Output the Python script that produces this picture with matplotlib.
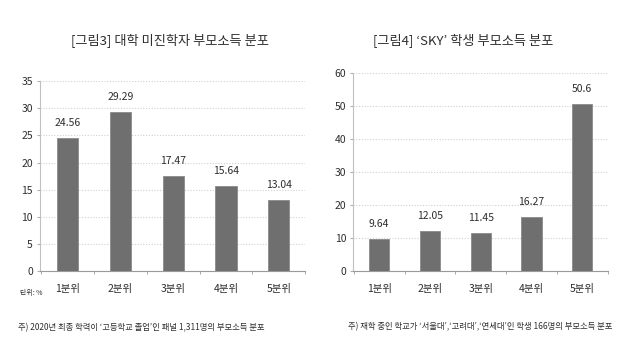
import matplotlib.pyplot as plt

plt.rcParams["font.family"] = ["Noto Sans CJK KR", "DejaVu Sans"]

# ── 데이터 ──
categories = ["1분위", "2분위", "3분위", "4분위", "5분위"]
left_values = [24.56, 29.29, 17.47, 15.64, 13.04]
right_values = [9.64, 12.05, 11.45, 16.27, 50.6]
left_labels = ["24.56", "29.29", "17.47", "15.64", "13.04"]
right_labels = ["9.64", "12.05", "11.45", "16.27", "50.6"]

left_title = "[그림3] 대학 미진학자 부모소득 분포"
right_title = "[그림4] ‘SKY’ 학생 부모소득 분포"
left_note = "주) 2020년 최종 학력이 ‘고등학교 졸업’인 패널 1,311명의 부모소득 분포"
right_note = "주) 재학 중인 학교가 ‘서울대’,‘고려대’,‘연세대’인 학생 166명의 부모소득 분포"

BAR_COLOR = "#6f6f6f"
TEXT_COLOR = "#2e2e2e"

fig = plt.figure(figsize=(6.33, 3.59), dpi=100)


def draw(ax, values, labels, ymax, step, xlim):
    x = range(len(categories))
    ax.bar(x, values, width=0.4, color=BAR_COLOR, edgecolor="#8a8a8a",
           linewidth=0.6, zorder=3)
    for xi, v, lab in zip(x, values, labels):
        ax.annotate(lab, (xi, v), xytext=(0, 11), textcoords="offset points",
                    ha="center", va="center", fontsize=7.5, color=TEXT_COLOR)
    ax.set_ylim(0, ymax)
    ax.set_xlim(*xlim)
    ax.set_yticks(range(0, ymax + 1, step))
    ax.set_xticks(list(x))
    ax.set_xticklabels(categories)
    ax.set_xticks([i + 0.5 for i in range(-1, len(categories))], minor=True)
    ax.tick_params(axis="x", which="major", length=0, pad=9,
                   labelsize=7.5, colors=TEXT_COLOR)
    ax.tick_params(axis="x", which="minor", length=2.5, color="#9a9a9a")
    ax.tick_params(axis="y", length=2, color="#b0b0b0", labelsize=7.5,
                   labelcolor=TEXT_COLOR, pad=3)
    ax.yaxis.grid(True, linestyle=(0, (1, 1.5)), color="#d0d0d0",
                  linewidth=0.8, zorder=0)
    for s in ("top", "right"):
        ax.spines[s].set_visible(False)
    ax.spines["left"].set_color("#c0c0c0")
    ax.spines["bottom"].set_color("#9a9a9a")


ax1 = fig.add_axes([0.063, 0.245, 0.419, 0.529])
draw(ax1, left_values, left_labels, 35, 5, (-0.53, 4.47))
ax2 = fig.add_axes([0.558, 0.245, 0.402, 0.552])
draw(ax2, right_values, right_labels, 60, 10, (-0.51, 4.49))

fig.text(0.268, 0.889, left_title, ha="center", va="center",
         fontsize=9.5, color=TEXT_COLOR)
fig.text(0.731, 0.889, right_title, ha="center", va="center",
         fontsize=9.5, color=TEXT_COLOR)
fig.text(0.032, 0.184, "단위: %", ha="left", va="center",
         fontsize=5, color=TEXT_COLOR)
fig.text(0.028, 0.086, left_note, ha="left", va="center",
         fontsize=6, color=TEXT_COLOR)
fig.text(0.549, 0.089, right_note, ha="left", va="center",
         fontsize=6, color=TEXT_COLOR)

fig.savefig("out.png", dpi=100)
